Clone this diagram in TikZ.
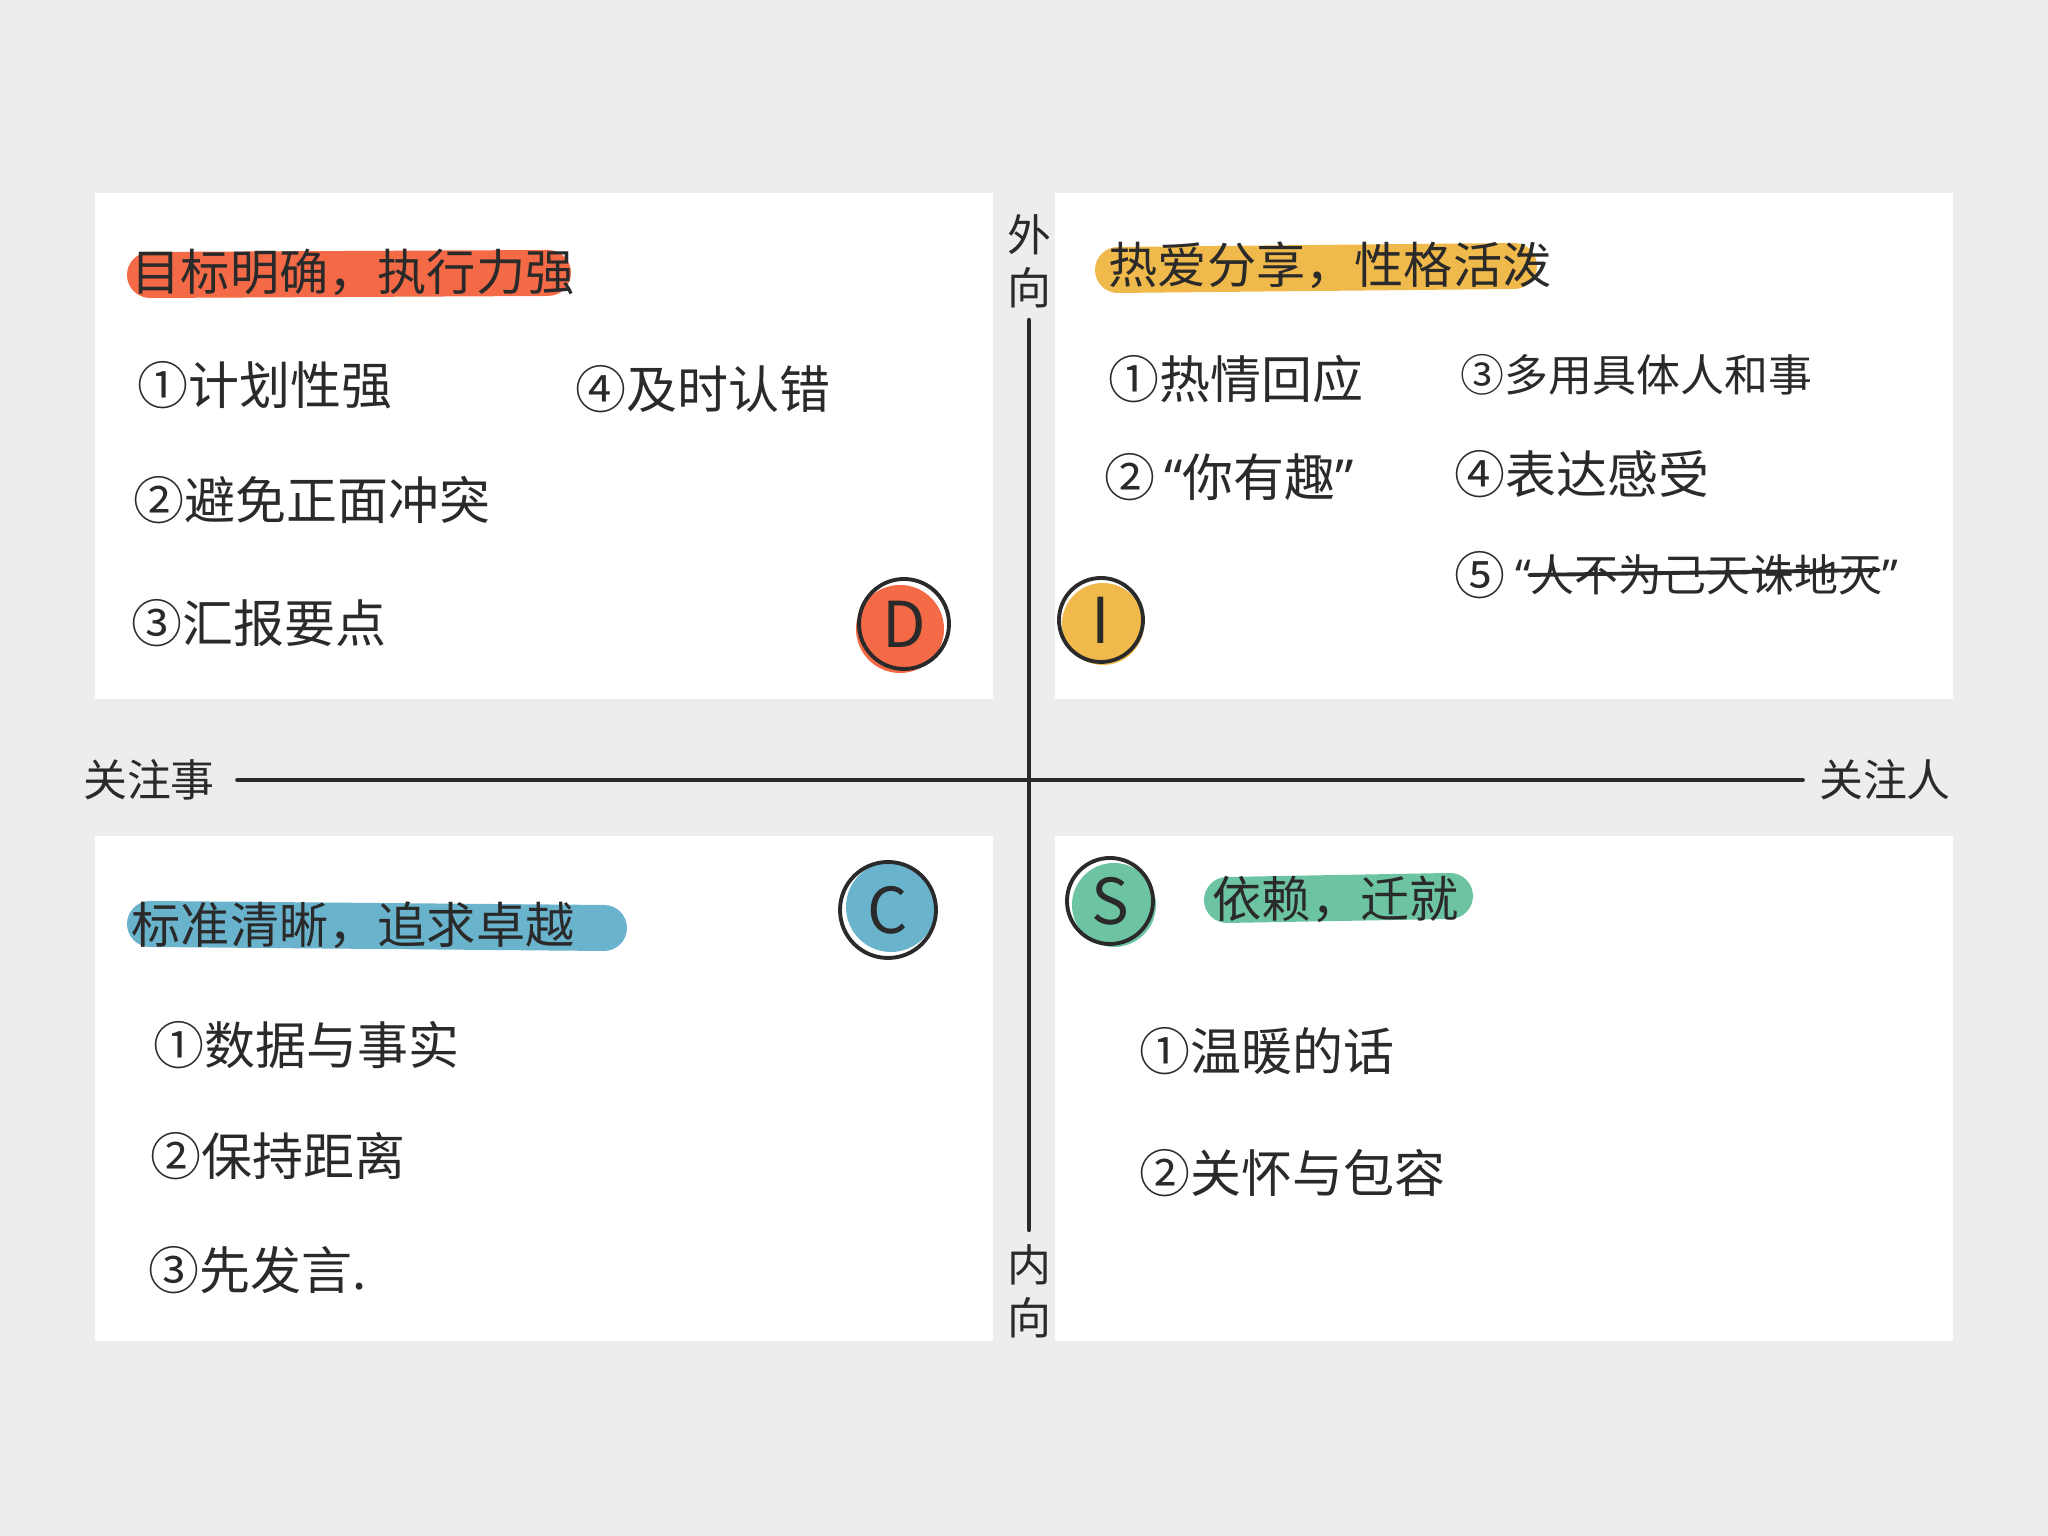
\documentclass[tikz,border=0pt]{standalone}
\usepackage{fontspec}
\setmainfont{Noto Sans CJK SC}
\newfontfamily\quotefont{Noto Sans}
\newcommand\openq{{\quotefont “}}
\newcommand\closeq{{\quotefont ”}}
\usetikzlibrary{positioning,calc}
\definecolor{paper}{HTML}{EDEDED}
\definecolor{ink}{HTML}{2A2A2A}
\definecolor{dred}{HTML}{F46A47}
\definecolor{iyellow}{HTML}{F0B94B}
\definecolor{cblue}{HTML}{6AB3CC}
\definecolor{sgreen}{HTML}{6DC4A3}

\begin{document}
\begin{tikzpicture}[
    line cap=round, line join=round,
    every node/.style={text=ink, inner sep=0pt},
    card/.style={fill=white},
    axisline/.style={ink, line width=1.4pt},
    axlbl/.style={font=\fontsize{12.5}{15}\selectfont, align=center},
    title/.style={font=\fontsize{14}{16}\selectfont, anchor=west},
    item/.style={font=\fontsize{14.5}{16}\selectfont, anchor=west},
    smallitem/.style={font=\fontsize{12.5}{14}\selectfont, anchor=west},
    hilite/.style={line width=0.46cm, draw=#1},
    badge/.style={circle, draw=ink, line width=1.1pt, minimum size=0.9cm,
                  font=\fontsize{18}{18}\selectfont},
]

% ============================================================
% Page + four cards
% ============================================================
\def\Lx{0.95}  \def\Rx{9.93}
\def\Ly{10.55} \def\Ry{19.53}
\fill[paper] (0,0) rectangle (20.48,15.36);
\useasboundingbox (0,0) rectangle (20.48,15.36);
\fill[card] (\Lx,8.37)  rectangle (\Rx,13.43);
\fill[card] (\Ly,8.37)  rectangle (\Ry,13.43);
\fill[card] (\Lx,1.95)  rectangle (\Rx,7.00);
\fill[card] (\Ly,1.95)  rectangle (\Ry,7.00);

% ============================================================
% Axes
% ============================================================
\node[axlbl] (lOut)    at (10.29,12.75) {外\\向};
\node[axlbl] (lIn)     at (10.29,2.45)  {内\\向};
\node[axlbl] (lTask)   at (1.49,7.56)   {关注事};
\node[axlbl] (lPeople) at (18.85,7.56)  {关注人};
\draw[axisline, shorten <=0.12cm, shorten >=0.14cm] (lOut) -- (lIn);
\draw[axisline, shorten <=0.22cm, shorten >=0.16cm] (lTask) -- (lPeople);

% ============================================================
% Marker strokes behind the titles
% ============================================================
\draw[hilite=dred]    (1.50,12.61) -- (5.48,12.63);
\draw[hilite=iyellow] (11.18,12.66) -- (15.14,12.70);
\draw[hilite=cblue]   (1.50,6.12)  -- (6.04,6.08);
\draw[hilite=sgreen]  (12.27,6.36) -- (14.50,6.40);

% ============================================================
% D : top left
% ============================================================
\node[title] (tD) at (1.31,12.64) {目标明确，执行力强};
\node[item]  (d1) at (1.37,11.51) {①计划性强};
\node[item]  (d2) at (1.33,10.36) {②避免正面冲突};
\node[item]  (d3) at (1.31,9.13)  {③汇报要点};
\node[item]  (d4) at (5.75,11.47) {④及时认错};
\fill[dred] (9.00,9.07) circle (0.44);
\node[badge] (bD) at (9.04,9.12) {D};

% ============================================================
% I : top right
% ============================================================
\node[title] (tI) at (11.08,12.71) {热爱分享，性格活泼};
\node[item]  (i1) at (11.08,11.57) {①热情回应};
\node[item]  (i2) at (11.04,10.59) {②\,\openq 你有趣\closeq};
\node[smallitem] (i3) at (14.60,11.61) {③多用具体人和事};
\node[item]  (i4) at (14.54,10.62) {④表达感受};
\node[item]  (i5) at (14.54,9.61)  {⑤};
\node[smallitem, right=0.08cm of i5] (i5t) {\openq 人不为己天诛地灭\closeq};
\draw[ink, line width=1.1pt] ($(i5t.west)+(0.15,0)$) -- ($(i5t.east)+(-0.2,0.05)$);
\fill[iyellow] (11.03,9.12) circle (0.41);
\node[badge, minimum size=0.84cm] (bI) at (11.01,9.16) {I};

% ============================================================
% C : bottom left
% ============================================================
\node[title] (tC) at (1.31,6.11) {标准清晰，追求卓越};
\node[item]  (c1) at (1.53,4.91) {①数据与事实};
\node[item]  (c2) at (1.50,3.80) {②保持距离};
\node[item]  (c3) at (1.48,2.66) {③先发言.};
\fill[cblue] (8.91,6.29) circle (0.45);
\node[badge, minimum size=0.96cm] (bC) at (8.88,6.26) {C};

% ============================================================
% S : bottom right
% ============================================================
\node[title] (tS) at (12.12,6.37) {依赖，迁就};
\node[item]  (s1) at (11.39,4.85) {①温暖的话};
\node[item]  (s2) at (11.39,3.63) {②关怀与包容};
\fill[sgreen] (11.14,6.31) circle (0.42);
\node[badge, minimum size=0.86cm] (bS) at (11.10,6.35) {S};

\end{tikzpicture}
\end{document}
